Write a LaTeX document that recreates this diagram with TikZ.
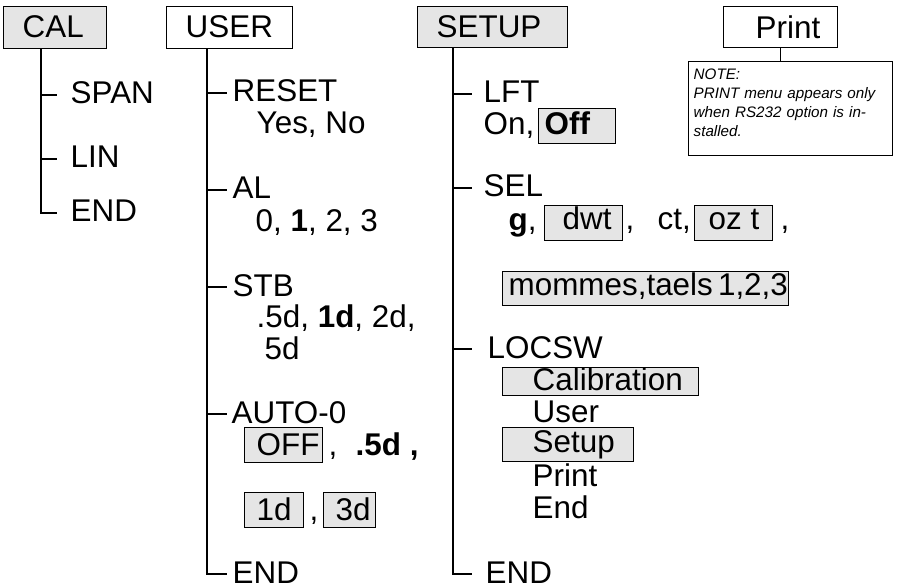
\documentclass[tikz,border=0pt]{standalone}
\usepackage{fontspec}
\setmainfont{Liberation Sans}

\begin{document}
\begin{tikzpicture}[
		% one unit is one pixel of the menu chart, y runs downwards
		x=0.5pt,
		y=-0.5pt,
		line width=0.7pt,
		font=\fontsize{15.7}{17}\selectfont,
		menubox/.style={draw, fill=white, inner sep=0pt, anchor=north west},
		keybox/.style={menubox, fill=gray!20},
		item/.style={anchor=base west, inner sep=0pt, text height=11pt, text depth=2pt}
		]
		\useasboundingbox (0,0) rectangle (897,587);
		
		% ==========================================
		% 1. CAL menu
		% ==========================================
		\node[keybox, minimum width=51.5pt, minimum height=21pt] (cal) at (3,6) {};
		\node[item] (cal-t) at (22,38) {CAL};
		\coordinate (calx) at (41,0);
		\coordinate (caltip) at (57,0);
		
		\node[item] (span) at (70,104) {SPAN};
		\node[item] (lin) at (70,168) {LIN};
		\node[item] (calend) at (70,222) {END};
		
		\draw (cal.south -| calx) |- (calend.west -| caltip);
		\foreach \n in {span,lin} {
			\draw (\n.west -| calx) -- (\n.west -| caltip);
		}
		
		% ==========================================
		% 2. USER menu
		% ==========================================
		\node[menubox, minimum width=63pt, minimum height=21pt] (user) at (166,6) {};
		\node[item] (user-t) at (185,38) {USER};
		\coordinate (userx) at (207,0);
		\coordinate (usertip) at (227,0);
		
		\node[item] (reset) at (232,102) {RESET};
		\node[item] (reset-v) at (256,134) {Yes, No};
		
		\node[item] (al) at (232,199) {AL};
		\node[item] (al-v) at (255,232) {0, \textbf{1}, 2, 3};
		
		\node[item] (stb) at (232,296) {STB};
		\node[item] (stb-v) at (256,327) {.5d, \textbf{1d}, 2d,};
		\node[item] (stb-w) at (264,359) {5d};
		
		\node[item] (auto) at (231,423) {AUTO-0};
		\node[keybox, minimum width=39pt, minimum height=17.5pt] (aoff-b) at (244,427) {};
		\node[item] (aoff-t) at (256,455) {OFF};
		\node[item] (aoff-c) at (328,455) {,};
		\node[item] (ahalf) at (355,455) {\textbf{.5d ,}};
		\node[keybox, minimum width=29.5pt, minimum height=17.5pt] (aone-b) at (244,492) {};
		\node[item] (aone-t) at (256,520) {1d};
		\node[item] (aone-c) at (309,520) {,};
		\node[keybox, minimum width=26pt, minimum height=17.5pt] (athree-b) at (323,492) {};
		\node[item] (athree-t) at (335,520) {3d};
		
		\node[item] (userend) at (232,583) {END};
		
		\draw (user.south -| userx) |- (userend.west -| usertip);
		\foreach \n in {reset,al,stb,auto} {
			\draw (\n.west -| userx) -- (\n.west -| usertip);
		}
		
		% ==========================================
		% 3. SETUP menu
		% ==========================================
		\node[keybox, minimum width=75pt, minimum height=20.5pt] (setup) at (417,6) {};
		\node[item] (setup-t) at (436,38) {SETUP};
		\coordinate (setx) at (453,0);
		\coordinate (settip) at (472,0);
		
		\node[item] (lft) at (483,103) {LFT};
		\node[item] (lft-v) at (483,135) {On,};
		\node[keybox, minimum width=38.5pt, minimum height=17.5pt] (loff-b) at (538,108) {};
		\node[item] (loff-t) at (544,135) {\textbf{Off}};
		
		\node[item] (sel) at (483,197) {SEL};
		\node[item] (sg) at (508,231) {\textbf{g},};
		\node[keybox, minimum width=39pt, minimum height=17.5pt] (sdwt-b) at (544,205) {};
		\node[item] (sdwt-t) at (562,230) {dwt};
		\node[item] (sdwt-c) at (625,230) {,};
		\node[item] (sct) at (657,230) {ct,};
		\node[keybox, minimum width=39pt, minimum height=17.5pt] (soz-b) at (694,205) {};
		\node[item] (soz-t) at (708,230) {oz t};
		\node[item] (soz-c) at (780,230) {,};
		\node[keybox, minimum width=143pt, minimum height=17pt] (smom-b) at (502,271) {};
		\node[item] (smom-t) at (508,295) {mommes,taels\,1,2,3};
		
		\node[item] (locsw) at (487,358) {LOCSW};
		\node[keybox, minimum width=98pt, minimum height=14pt] (lcal-b) at (502,367) {};
		\node[item] (lcal-t) at (532,390) {Calibration};
		\node[item] (luser) at (532,422) {User};
		\node[keybox, minimum width=65.5pt, minimum height=17pt] (lset-b) at (502,427) {};
		\node[item] (lset-t) at (532,452) {Setup};
		\node[item] (lprint) at (532,486) {Print};
		\node[item] (lend) at (532,518) {End};
		
		\node[item] (setend) at (485,583) {END};
		
		\draw (setup.south -| setx) |- (setend.west -| settip);
		\foreach \n in {lft,sel,locsw} {
			\draw (\n.west -| setx) -- (\n.west -| settip);
		}
		
		% ==========================================
		% 4. Print menu with its note
		% ==========================================
		\node[menubox, minimum width=57pt, minimum height=20.5pt] (print) at (723,6) {};
		\node[item] (print-t) at (755,39) {Print};
		
		\node[menubox, minimum width=102pt, minimum height=47pt] (note) at (688,61) {};
		\node[anchor=north west, inner sep=0pt, text width=96.5pt, align=left,
		font=\fontsize{7.6}{9.5}\selectfont\itshape] (note-t) at (693,68)
		{NOTE:\\
			\makebox[96.5pt][s]{PRINT menu appears only}\\
			\makebox[96.5pt][s]{when RS232 option is in-}\\
			stalled.};
		
		\draw (print.south) -- (print.south |- note.north);
		
	\end{tikzpicture}
\end{document}
